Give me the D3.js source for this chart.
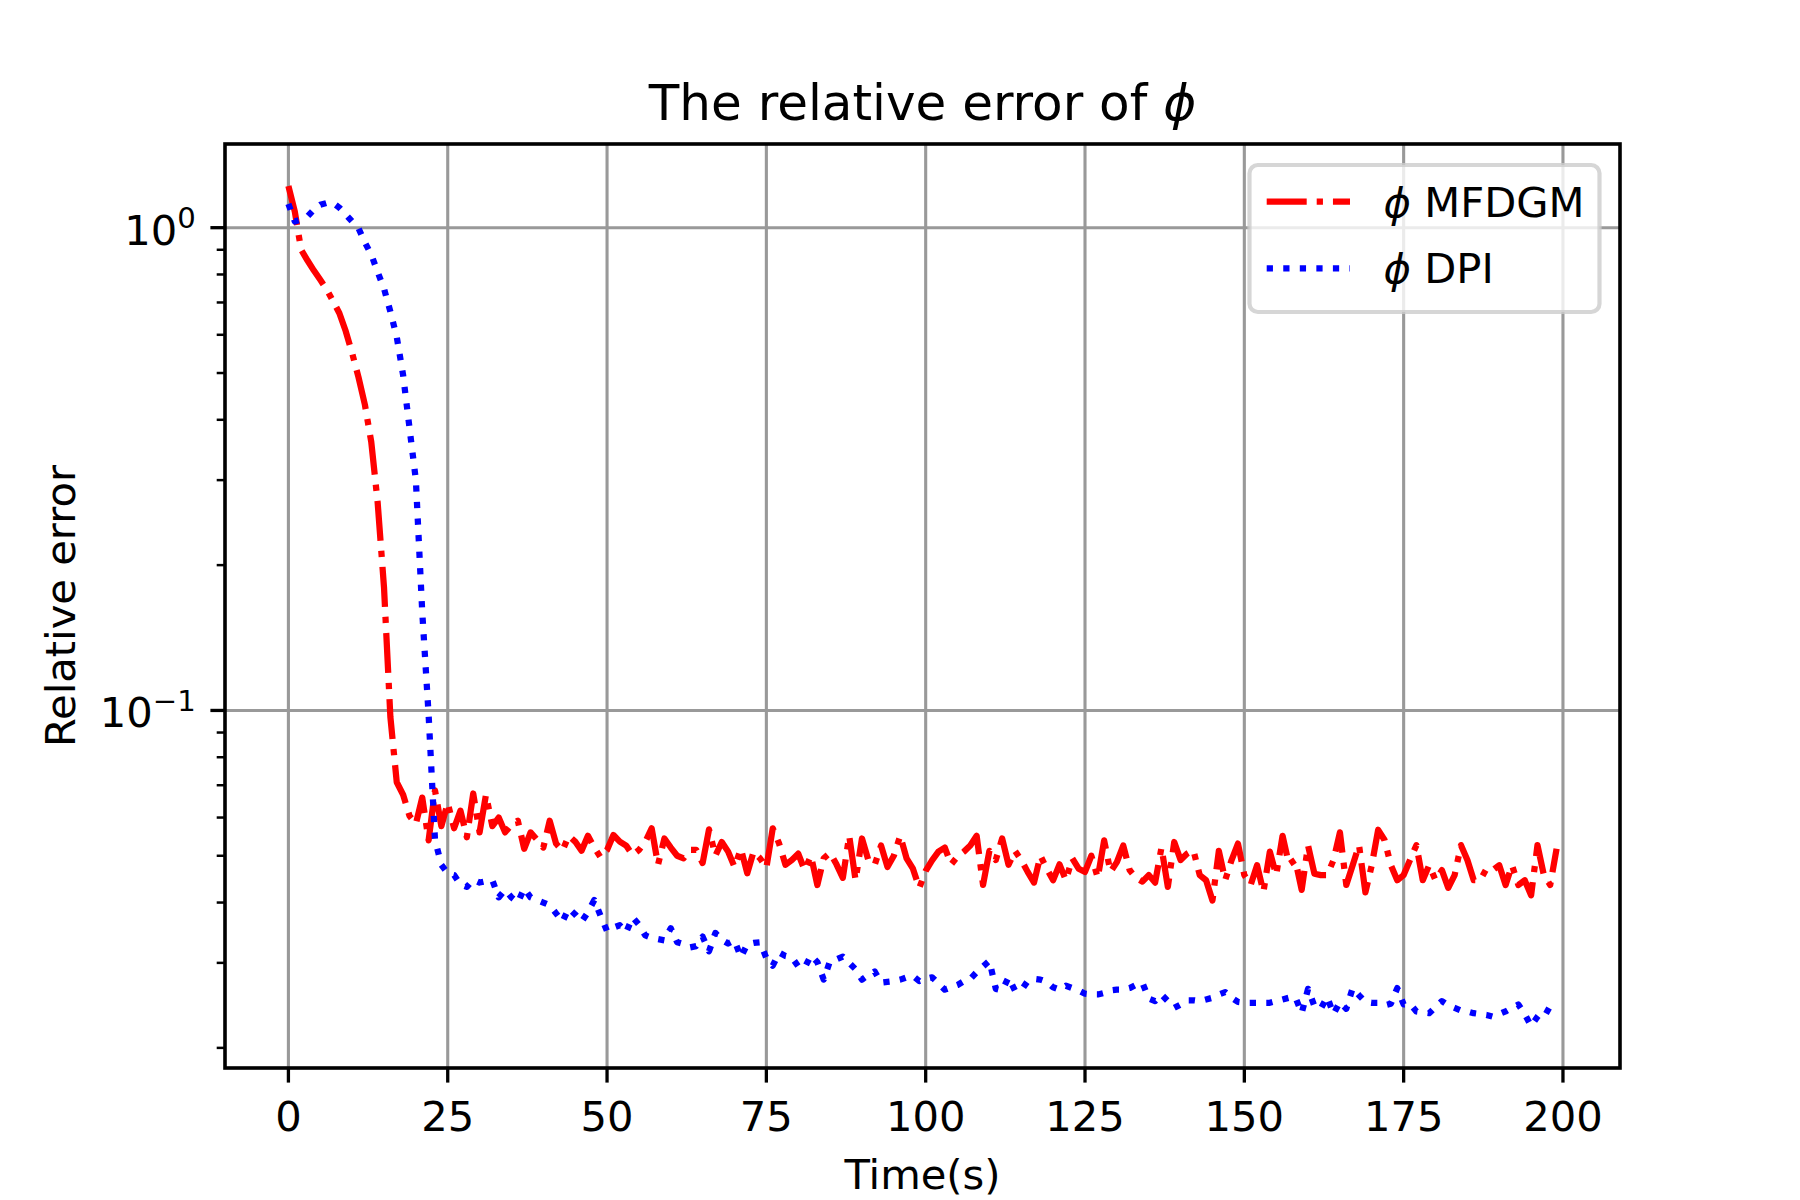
<!DOCTYPE html>
<html><head><meta charset="utf-8">
<script src="https://cdn.jsdelivr.net/npm/d3@7/dist/d3.min.js"></script>
<style>body{margin:0;background:#fff}svg{display:block}</style>
</head><body><svg id="chart" width="1800" height="1200"></svg>
<script>
// ---------- data ----------
const timeSteps = d3.range(0, 200);
const mfdgm = [
1.22,1.08,0.90,0.855,0.815,0.78,0.745,0.705,0.665,0.61,
0.55,0.49,0.43,0.36,0.27,0.18,0.097,0.071,0.0669,0.0605,
0.0582,0.066,0.0538,0.0683,0.0576,0.0643,0.057,0.062,0.0546,0.0673,
0.0559,0.0669,0.0576,0.0600,0.0559,0.058,0.0591,0.0517,0.0559,0.054,
0.0520,0.0591,0.053,0.0512,0.055,0.0535,0.0512,0.055,0.052,0.0496,
0.0514,0.0552,0.0535,0.0525,0.0502,0.0514,0.0534,0.057,0.0479,0.0543,
0.052,0.050,0.0494,0.0514,0.0514,0.0483,0.0567,0.050,0.0534,0.051,
0.0474,0.0517,0.046,0.051,0.0494,0.0472,0.057,0.053,0.0479,0.049,
0.0505,0.0467,0.050,0.0435,0.0494,0.0507,0.048,0.045,0.055,0.0445,
0.0543,0.049,0.0479,0.0525,0.0474,0.050,0.055,0.0494,0.047,0.0429,
0.0465,0.0489,0.051,0.052,0.048,0.0498,0.051,0.0525,0.055,0.0435,
0.0512,0.049,0.0543,0.0479,0.0512,0.049,0.0463,0.044,0.050,0.047,
0.0445,0.048,0.0445,0.0494,0.047,0.0463,0.050,0.045,0.0538,0.0463,
0.0485,0.0525,0.0467,0.045,0.0442,0.0456,0.044,0.052,0.0431,0.0534,
0.049,0.0505,0.0514,0.0456,0.0445,0.0404,0.0512,0.0445,0.049,0.053,
0.0456,0.0435,0.0478,0.0421,0.051,0.0456,0.055,0.048,0.049,0.0425,
0.0525,0.0459,0.0456,0.0456,0.049,0.0559,0.0435,0.0478,0.0526,0.042,
0.0478,0.0566,0.0539,0.0478,0.0445,0.0456,0.049,0.0526,0.0445,0.0478,
0.0445,0.0467,0.0429,0.0456,0.0526,0.049,0.0445,0.0445,0.047,0.0467,
0.0478,0.0435,0.0478,0.0435,0.0445,0.0414,0.0526,0.0456,0.0435,0.0517
];
const dpi = [
1.12,1.03,1.04,1.055,1.09,1.115,1.125,1.125,1.10,1.065,
1.03,0.997,0.932,0.88,0.81,0.748,0.67,0.594,0.495,0.385,
0.30,0.16,0.098,0.054,0.0479,0.046,0.0456,0.0436,0.0431,0.0446,
0.044,0.0443,0.0445,0.041,0.0425,0.041,0.040,0.0428,0.041,0.0405,
0.040,0.0395,0.038,0.0365,0.0389,0.0378,0.0365,0.0382,0.0405,0.0375,
0.0349,0.0355,0.0359,0.0347,0.0373,0.036,0.0342,0.0338,0.0336,0.0334,
0.0354,0.0331,0.0328,0.0323,0.0325,0.034,0.0317,0.0346,0.0335,0.0329,
0.0334,0.0308,0.0328,0.033,0.0331,0.0307,0.0296,0.0315,0.031,0.0308,
0.0295,0.0293,0.0311,0.0301,0.0277,0.0303,0.0305,0.0309,0.030,0.0291,
0.0277,0.0283,0.0288,0.0273,0.0274,0.0275,0.0277,0.028,0.0282,0.0275,
0.0278,0.028,0.0272,0.0264,0.0267,0.027,0.0275,0.0278,0.0287,0.0295,
0.0303,0.0265,0.0263,0.028,0.0263,0.0263,0.0275,0.0278,0.0277,0.0274,
0.0267,0.0264,0.0269,0.0266,0.0263,0.0259,0.0258,0.0258,0.026,0.0263,
0.0264,0.0264,0.0266,0.027,0.0273,0.0253,0.025,0.0258,0.025,0.0242,
0.0246,0.0251,0.0251,0.025,0.0252,0.0254,0.0258,0.0261,0.0254,0.0249,
0.0248,0.0248,0.0248,0.0248,0.0248,0.025,0.0252,0.0254,0.0255,0.0236,
0.0265,0.0244,0.0241,0.0255,0.0235,0.0249,0.0241,0.0266,0.0257,0.0249,
0.0248,0.0248,0.0245,0.0247,0.0266,0.0246,0.0247,0.0238,0.0237,0.0236,
0.0243,0.025,0.0245,0.0242,0.0239,0.0238,0.0236,0.0235,0.0234,0.0232,
0.0235,0.0238,0.0242,0.0246,0.0235,0.0222,0.0232,0.0241,0.0237,0.0233
];
const seriesNames = ["MFDGM", "DPI"];
const xTicks = [0, 25, 50, 75, 100, 125, 150, 175, 200];
const yMajorTicks = [1, 0.1];
const yMajorExponents = ["0", "\u22121"];
const yMinorTicks = [0.02,0.03,0.04,0.05,0.06,0.07,0.08,0.09,0.2,0.3,0.4,0.5,0.6,0.7,0.8,0.9];
const titleText = "The relative error of ";
const xLabel = "Time(s)";
const yLabel = "Relative error";

// ---------- layout ----------
const L = 225, R = 1620, T = 144, B = 1068;
const FONT = "DejaVu Sans";
const fs = 41.67;
const svg = d3.select("#chart");
svg.append("rect").attr("width",1800).attr("height",1200).attr("fill","#fff");

const xMin = d3.min(timeSteps), xMax = d3.max(timeSteps);
const xPad = (xMax - xMin) * 0.05;
const x = d3.scaleLinear().domain([xMin - xPad, xMax + xPad]).range([L, R]);

const allVals = mfdgm.concat(dpi);
const lmin = Math.log10(d3.min(allVals)), lmax = Math.log10(d3.max(allVals));
const lpad = (lmax - lmin) * 0.05;
const y = d3.scaleLog().domain([Math.pow(10, lmin - lpad), Math.pow(10, lmax + lpad)]).range([B, T]);

// grid
const grid = svg.append("g").attr("stroke","#999").attr("stroke-width",3.1);
xTicks.forEach(t => grid.append("line").attr("x1",x(t)).attr("x2",x(t)).attr("y1",T).attr("y2",B));
yMajorTicks.forEach(t => grid.append("line").attr("x1",L).attr("x2",R).attr("y1",y(t)).attr("y2",y(t)));

// lines
const defs = svg.append("defs");
defs.append("clipPath").attr("id","clip").append("rect").attr("x",L).attr("y",T).attr("width",R-L).attr("height",B-T);
const line = d3.line().x((d,i) => x(timeSteps[i])).y(d => y(d)).curve(d3.curveLinear);
const plot = svg.append("g").attr("clip-path","url(#clip)");
plot.append("path").datum(mfdgm).attr("d", line).attr("fill","none")
  .attr("stroke","#ff0000").attr("stroke-width",6.25)
  .attr("stroke-dasharray","40,10,6.25,10").attr("stroke-linejoin","round").attr("stroke-linecap","butt");
plot.append("path").datum(dpi).attr("d", line).attr("fill","none")
  .attr("stroke","#0000ff").attr("stroke-width",6.25)
  .attr("stroke-dasharray","6.25,10.3").attr("stroke-linejoin","round").attr("stroke-linecap","butt");

// spines
svg.append("rect").attr("x",L).attr("y",T).attr("width",R-L).attr("height",B-T)
  .attr("fill","none").attr("stroke","#000").attr("stroke-width",3.6);

// x ticks
const xt = svg.append("g");
xTicks.forEach(t => {
  xt.append("line").attr("x1",x(t)).attr("x2",x(t)).attr("y1",B).attr("y2",B+14.6).attr("stroke","#000").attr("stroke-width",3.3);
  xt.append("text").attr("x",x(t)).attr("y",1131).attr("text-anchor","middle")
    .attr("font-family",FONT).attr("font-size",fs).attr("fill","#000").text(t);
});
// y ticks
const yt = svg.append("g");
yMajorTicks.forEach((t,i) => {
  yt.append("line").attr("x1",L-14.6).attr("x2",L).attr("y1",y(t)).attr("y2",y(t)).attr("stroke","#000").attr("stroke-width",3.3);
  const tx = yt.append("text").attr("x",195.8).attr("y",y(t)+17).attr("text-anchor","end")
    .attr("font-family",FONT).attr("font-size",fs).attr("fill","#000");
  tx.append("tspan").text("10");
  tx.append("tspan").attr("font-size",fs*0.7).attr("dy",-16.5).text(yMajorExponents[i]);
});
yMinorTicks.forEach(t => {
  yt.append("line").attr("x1",L-8.3).attr("x2",L).attr("y1",y(t)).attr("y2",y(t)).attr("stroke","#000").attr("stroke-width",2.5);
});

// labels
svg.append("text").attr("x",(L+R)/2).attr("y",1189).attr("text-anchor","middle")
  .attr("font-family",FONT).attr("font-size",fs).attr("fill","#000").text(xLabel);
svg.append("text").attr("transform",`translate(75,${(T+B)/2}) rotate(-90)`).attr("text-anchor","middle")
  .attr("font-family",FONT).attr("font-size",fs).attr("fill","#000").text(yLabel);
const title = svg.append("text").attr("x",(L+R)/2).attr("y",120).attr("text-anchor","middle")
  .attr("font-family",FONT).attr("font-size",50).attr("fill","#000");
title.append("tspan").text(titleText);
title.append("tspan").attr("font-style","italic").text("\u03D5");

// legend
const lg = svg.append("g");
lg.append("rect").attr("x",1249.5).attr("y",165).attr("width",350).attr("height",147).attr("rx",8.3).attr("ry",8.3)
  .attr("fill","#fff").attr("fill-opacity",0.8).attr("stroke","#ccc").attr("stroke-opacity",0.8).attr("stroke-width",4.2);
const legendStyles = [
  {color:"#ff0000", dash:"40,10,6.25,10"},
  {color:"#0000ff", dash:"6.25,10.3"}
];
seriesNames.forEach((name,i) => {
  const cy = 201.7 + i*66.6;
  lg.append("line").attr("x1",1266.7).attr("x2",1350).attr("y1",cy).attr("y2",cy)
    .attr("stroke",legendStyles[i].color).attr("stroke-width",6.25).attr("stroke-dasharray",legendStyles[i].dash).attr("stroke-linecap","butt");
  const t = lg.append("text").attr("x",1383.5).attr("y",cy+15).attr("font-family",FONT).attr("font-size",fs).attr("fill","#000");
  t.append("tspan").attr("font-style","italic").text("\u03D5");
  t.append("tspan").text(" " + name);
});
</script></body></html>
